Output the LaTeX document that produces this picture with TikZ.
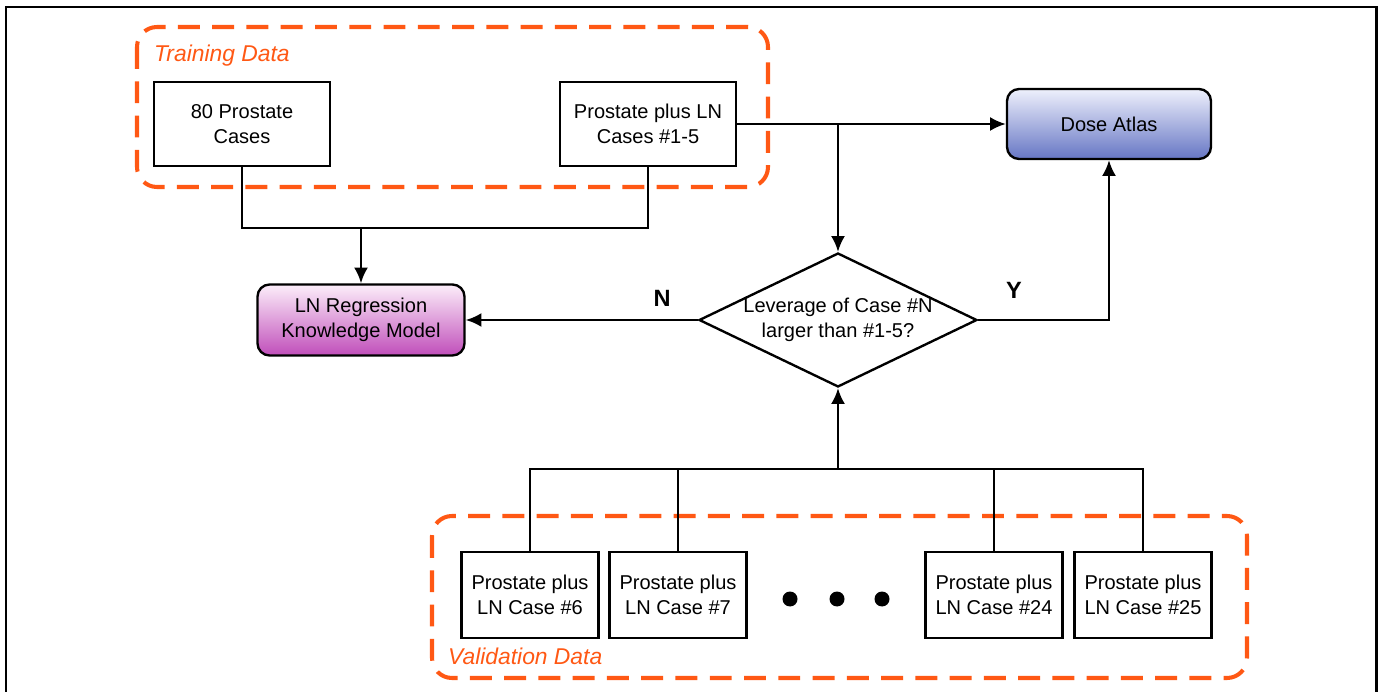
\documentclass[tikz,border=0pt]{standalone}
\usepackage{fontspec}
\setmainfont{Liberation Sans}
\usetikzlibrary{shapes.geometric,arrows.meta}
\definecolor{dataorange}{RGB}{255,88,20}
\definecolor{atlastop}{RGB}{238,240,252}
\definecolor{atlasbot}{RGB}{102,118,196}
\definecolor{modeltop}{RGB}{252,238,250}
\definecolor{modelbot}{RGB}{192,78,186}
\begin{document}
\begin{tikzpicture}[x=0.02cm,y=-0.02cm,
  font=\fontsize{11.4}{14}\selectfont,
  wire/.style={line width=1.35pt},
  arrow/.style={wire,-{Latex[length=9pt,width=8pt]}},
  casebox/.style={draw,line width=1.35pt,align=center,minimum width=3.52cm,minimum height=1.68cm},
  valbox/.style={casebox,minimum width=2.74cm,minimum height=1.72cm},
  atlasbox/.style={draw,line width=1.35pt,rounded corners=0.24cm,minimum width=4.08cm,minimum height=1.4cm,top color=atlastop,bottom color=atlasbot},
  modelbox/.style={draw,line width=1.35pt,rounded corners=0.24cm,align=center,minimum width=4.14cm,minimum height=1.42cm,top color=modeltop,bottom color=modelbot},
  decision/.style={draw,diamond,line width=1.35pt,align=center,aspect=2.07,inner sep=0pt,inner xsep=-3pt,minimum width=5.56cm,minimum height=2.68cm},
  groupbox/.style={draw=dataorange,line width=2.3pt,dash pattern=on 12.5pt off 7pt,rounded corners=0.4cm},
  grouplabel/.style={text=dataorange,font=\fontsize{13}{15}\selectfont\itshape,anchor=west},
  answer/.style={font=\fontsize{13.4}{15}\selectfont\bfseries},
  dot/.style={circle,fill=black,inner sep=0pt,minimum size=0.3cm}]
\useasboundingbox (0,0) rectangle (1383,692);
\draw[line width=1.7pt] (6,700) -- (6,7) -- (1376,7) -- (1376,700);

\draw[groupbox] (137,27) rectangle (768,187);
\node[grouplabel] (trainlbl) at (148,56) {Training Data};
\draw[groupbox] (432,516) rectangle (1247,678);
\node[grouplabel] (vallbl) at (442,656) {Validation Data};

\node[casebox] (pc80) at (242,124) {80 Prostate\\Cases};
\node[casebox] (ln15) at (648,124) {Prostate plus LN\\Cases \#1-5};
\node[atlasbox] (atlas) at (1109,124) {Dose Atlas};
\node[modelbox] (model) at (361,320) {LN Regression\\Knowledge Model};
\node[decision] (lev) at (838,320) {Leverage of Case \#N\\larger than \#1-5?};

\node[valbox] (c6) at (530,595) {Prostate plus\\LN Case \#6};
\node[valbox] (c7) at (678,595) {Prostate plus\\LN Case \#7};
\node[valbox] (c24) at (994,595) {Prostate plus\\LN Case \#24};
\node[valbox] (c25) at (1143,595) {Prostate plus\\LN Case \#25};
\foreach \x/\n in {790/d1,837/d2,882/d3}
  \node[dot] (\n) at (\x,599) {};

\coordinate (join) at (361,228);
\draw[wire] (pc80.south) |- (join) -| (ln15.south);
\draw[arrow] (join) -- (model.north);
\draw[arrow] (ln15.east) -- (atlas.west);
\draw[arrow] (lev.north |- ln15.east) -- (lev.north);
\draw[arrow] (lev.west) -- (model.east);
\draw[arrow] (lev.east) -| (atlas.south);
\node[answer] (no) at (662,298) {N};
\node[answer] (yes) at (1014,290) {Y};

\coordinate (merge) at (838,469);
\draw[wire] (c6.north) |- (c25.north |- merge) -- (c25.north);
\foreach \n in {c7,c24}
  \draw[wire] (\n.north) -- (\n.north |- merge);
\draw[arrow] (merge) -- (lev.south);
\end{tikzpicture}
\end{document}
